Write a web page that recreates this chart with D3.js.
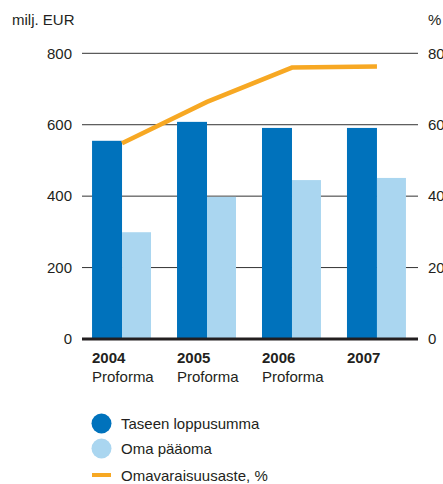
<!DOCTYPE html>
<html><head><meta charset="utf-8">
<script src="https://cdn.jsdelivr.net/npm/d3@7"></script>
<style>body{margin:0;background:#fff}svg{display:block}text{font-family:"Liberation Sans",Arial,sans-serif;fill:#231f20}</style>
</head><body><svg id="c" width="443" height="484"></svg>
<script>
const years = ["2004","2005","2006","2007"];
const subLabels = ["Proforma","Proforma","Proforma",""];
const taseenLoppusumma = [555, 608, 591, 591];
const omaPaaoma = [299, 398, 445, 451];
const omavaraisuusaste = [54.8, 66.4, 76.0, 76.3];
const leftTicks = [0, 200, 400, 600, 800];
const rightTicks = [0, 20, 40, 60, 80];
const seriesNames = ["Taseen loppusumma","Oma pääoma","Omavaraisuusaste, %"];
const colors = ["#0072bc","#aad6f0","#f7a823"];
const fs = 15;

const svg = d3.select("#c");
const x0 = 82, x1 = 418, yTop = 53.3, yBot = 339;
const x = d3.scaleBand().domain(years).range([x0, x1]).paddingInner(0.306).paddingOuter(0.13).align(0.4545);
const yL = d3.scaleLinear().domain([0, 800]).range([yBot, yTop]);
const yR = d3.scaleLinear().domain([0, 80]).range([yBot, yTop]);
const bw = x.bandwidth();
const w1 = bw * 30/59;

// gridlines
svg.append("g").selectAll("line").data(leftTicks.filter(d=>d>0)).join("line")
  .attr("x1", x0).attr("x2", x1).attr("y1", d=>yL(d)).attr("y2", d=>yL(d))
  .attr("stroke", "#333").attr("stroke-width", 1);

// axes labels
const axL = svg.append("g").attr("transform", `translate(${x0},0)`)
  .call(d3.axisLeft(yL).tickValues(leftTicks).tickSize(0).tickPadding(10));
axL.select(".domain").remove();
axL.selectAll("text").attr("font-size", fs).attr("fill", "#231f20").style("font-family","Liberation Sans, Arial, sans-serif");

const axR = svg.append("g").attr("transform", `translate(${x1},0)`)
  .call(d3.axisRight(yR).tickValues(rightTicks).tickSize(0).tickPadding(10));
axR.select(".domain").remove();
axR.selectAll("text").attr("font-size", fs).attr("fill", "#231f20").style("font-family","Liberation Sans, Arial, sans-serif");

// bars
svg.append("g").selectAll("rect").data(years).join("rect")
  .attr("x", d=>x(d)).attr("width", w1)
  .attr("y", (d,i)=>yL(taseenLoppusumma[i])).attr("height", (d,i)=>yBot - yL(taseenLoppusumma[i]))
  .attr("fill", colors[0]);
svg.append("g").selectAll("rect").data(years).join("rect")
  .attr("x", d=>x(d)+w1).attr("width", bw - w1)
  .attr("y", (d,i)=>yL(omaPaaoma[i])).attr("height", (d,i)=>yBot - yL(omaPaaoma[i]))
  .attr("fill", colors[1]);

// baseline
svg.append("line").attr("x1", x0).attr("x2", x1).attr("y1", yBot).attr("y2", yBot)
  .attr("stroke", "#231f20").attr("stroke-width", 3);

// line
const line = d3.line().x((d,i)=>x(years[i]) + w1).y(d=>yR(d));
svg.append("path").datum(omavaraisuusaste).attr("d", line)
  .attr("fill", "none").attr("stroke", colors[2]).attr("stroke-width", 4.5).attr("stroke-linejoin","miter");

// units
svg.append("text").attr("x", 12).attr("y", 24.5).attr("font-size", fs).text("milj. EUR");
svg.append("text").attr("x", 428).attr("y", 24.5).attr("font-size", fs).text("%");

// x labels
const xl = svg.append("g").selectAll("g").data(years).join("g");
xl.append("text").attr("x", d=>x(d)).attr("y", 363).attr("font-size", fs).attr("font-weight", "bold").text(d=>d);
xl.append("text").attr("x", d=>x(d)).attr("y", 382).attr("font-size", fs).text((d,i)=>subLabels[i]);

// legend
const lg = svg.append("g");
lg.append("circle").attr("cx", 101.5).attr("cy", 423.5).attr("r", 10).attr("fill", colors[0]);
lg.append("circle").attr("cx", 101.5).attr("cy", 448.5).attr("r", 10).attr("fill", colors[1]);
lg.append("line").attr("x1", 92).attr("x2", 111).attr("y1", 475).attr("y2", 475).attr("stroke", colors[2]).attr("stroke-width", 4);
lg.selectAll("text").data(seriesNames).join("text")
  .attr("x", 121).attr("y", (d,i)=>[428.5, 454, 480.5][i]).attr("font-size", fs).text(d=>d);
</script></body></html>
